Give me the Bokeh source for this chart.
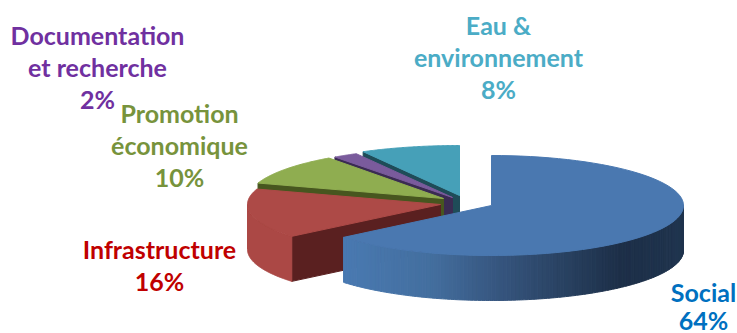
import numpy as np
from bokeh.embed import file_html
from bokeh.resources import INLINE
from bokeh.plotting import figure
from bokeh.core.properties import value

# Budget shares, in percent, clockwise around the pie from twelve o'clock
categories = ["Social", "Infrastructure", "Promotion économique",
              "Documentation et recherche", "Eau & environnement"]
shares = [64, 16, 10, 2, 8]

top_colors = ["#4a78b0", "#ad4a47", "#8fad50", "#7a5b9c", "#46a0b8"]
wall_colors = ["#4a78b0", "#5a2020", "#47561f", "#3a2b52", "#1f4c58"]
rim_colors = ["#4a78b0", "#ab4845", "#8fad50", "#7a5b9c", "#46a0b8"]

# Centre of each exploded slice on the canvas, with its ellipse radii
centres = [(491, 205), (440, 204), (443, 198), (452, 197), (459, 195)]
radii = [(192, 50), (193, 50), (195, 50), (200, 50), (200, 50)]
DEPTH = 45

# Colour ramp along the visible outer wall of the largest slice
ramp_x = [343, 430, 500, 560, 620, 683]
ramp_rgb = [(74, 122, 178), (68, 111, 159), (54, 85, 126),
            (42, 67, 99), (29, 47, 72), (32, 53, 79)]

label_lines = [
    ("Documentation", 97, 34, "#7030a0"),
    ("et recherche", 97, 66, "#7030a0"),
    ("2%", 97, 98, "#7030a0"),
    ("Promotion", 179, 112, "#77933c"),
    ("économique", 179, 144, "#77933c"),
    ("10%", 179, 176, "#77933c"),
    ("Eau &", 498, 24, "#4bacc6"),
    ("environnement", 498, 56, "#4bacc6"),
    ("8%", 498, 88, "#4bacc6"),
    ("Infrastructure", 159, 248, "#c00000"),
    ("16%", 159, 280, "#c00000"),
    ("Social", 703, 291, "#0070c0"),
    ("64%", 703, 319, "#0070c0"),
]

p = figure(width=737, height=333, x_range=(0, 737), y_range=(333, 0),
           output_backend="svg", toolbar_location=None, min_border=0)
p.axis.visible = False
p.grid.visible = False
p.outline_line_color = None
p.background_fill_color = "white"


def rim(i, a0, a1, n=80):
    """Points on a slice's ellipse; angles are clockwise from the top, in radians."""
    cx, cy = centres[i]
    rx, ry = radii[i]
    t = np.linspace(a0, a1, n)
    return cx + rx * np.sin(t), cy - ry * np.cos(t)


def patch(xs, ys, color):
    p.patch(list(xs), list(ys), fill_color=color, line_color=color, line_width=1)


# Turn the shares into clockwise angular spans starting from the top
fractions = np.array(shares) / sum(shares) * 2 * np.pi
ends = np.cumsum(fractions)
starts = ends - fractions

# Far slices first, so nearer slices cover their hidden walls
for i in [4, 3, 2, 1, 0]:
    a0, a1 = starts[i], ends[i]
    cx, cy = centres[i]

    # Cut face along the slice's leading edge, when it faces the viewer
    if i != 0:
        ex, ey = rim(i, a0, a0, 1)
        patch([cx, ex[0], ex[0], cx],
              [cy, ey[0], ey[0] + DEPTH, cy + DEPTH], wall_colors[i])

    # Outer wall, only for the part of the rim on the near side
    lo = max(a0, np.pi / 2)
    hi = min(a1, 3 * np.pi / 2)
    if i == 0:
        edges = np.linspace(lo, hi, 121)
        for b0, b1 in zip(edges[:-1], edges[1:]):
            xs, ys = rim(i, b0, b1, 3)
            mid = xs.mean()
            rgb = [int(np.interp(mid, ramp_x, [c[k] for c in ramp_rgb])) for k in range(3)]
            patch(np.r_[xs, xs[::-1]], np.r_[ys, ys[::-1] + DEPTH],
                  "#%02x%02x%02x" % tuple(rgb))
    elif hi > lo:
        xs, ys = rim(i, lo, hi)
        patch(np.r_[xs, xs[::-1]], np.r_[ys, ys[::-1] + DEPTH], rim_colors[i])

    # Top face
    xs, ys = rim(i, a0, a1)
    patch(np.r_[cx, xs], np.r_[cy, ys], top_colors[i])

for text, x, y, color in label_lines:
    p.text([x], [y], text=[text], text_color=color, text_align="center",
           text_baseline="middle", text_font=value("Lato"),
           text_font_style="bold", text_font_size="25px")

open("out.html", "w").write(file_html(p, INLINE))
